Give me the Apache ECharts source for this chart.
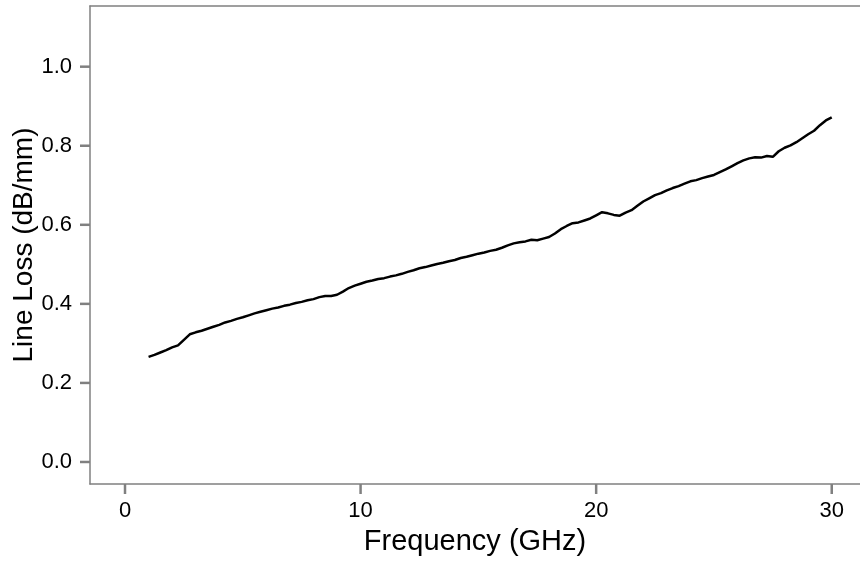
<!DOCTYPE html>
<html>
<head>
<meta charset="utf-8">
<script src="https://cdn.jsdelivr.net/npm/echarts@6/dist/echarts.min.js"></script>
<style>html,body{margin:0;padding:0;background:#fff}#c{width:860px;height:561px}</style>
</head>
<body>
<div id="c"></div>
<script>
const frequencyGHz = [1.00,1.25,1.50,1.75,2.00,2.25,2.50,2.75,3.00,3.25,3.50,3.75,4.00,4.25,4.50,4.75,5.00,5.25,5.50,5.75,6.00,6.25,6.50,6.75,7.00,7.25,7.50,7.75,8.00,8.25,8.50,8.75,9.00,9.25,9.50,9.75,10.00,10.25,10.50,10.75,11.00,11.25,11.50,11.75,12.00,12.25,12.50,12.75,13.00,13.25,13.50,13.75,14.00,14.25,14.50,14.75,15.00,15.25,15.50,15.75,16.00,16.25,16.50,16.75,17.00,17.25,17.50,17.75,18.00,18.25,18.50,18.75,19.00,19.25,19.50,19.75,20.00,20.25,20.50,20.75,21.00,21.25,21.50,21.75,22.00,22.25,22.50,22.75,23.00,23.25,23.50,23.75,24.00,24.25,24.50,24.75,25.00,25.25,25.50,25.75,26.00,26.25,26.50,26.75,27.00,27.25,27.50,27.75,28.00,28.25,28.50,28.75,29.00,29.25,29.50,29.75,30.00];
const lineLoss = [0.266,0.271,0.277,0.283,0.290,0.295,0.309,0.323,0.328,0.332,0.337,0.342,0.347,0.353,0.357,0.362,0.366,0.371,0.376,0.380,0.384,0.388,0.391,0.395,0.398,0.402,0.405,0.409,0.412,0.417,0.420,0.420,0.423,0.431,0.440,0.446,0.451,0.456,0.459,0.463,0.465,0.469,0.472,0.476,0.481,0.485,0.490,0.493,0.497,0.501,0.504,0.508,0.511,0.516,0.519,0.523,0.527,0.530,0.534,0.537,0.542,0.548,0.553,0.556,0.558,0.562,0.561,0.565,0.569,0.578,0.589,0.597,0.604,0.606,0.611,0.616,0.624,0.632,0.629,0.625,0.623,0.631,0.637,0.648,0.659,0.667,0.675,0.680,0.687,0.693,0.698,0.704,0.710,0.713,0.718,0.722,0.726,0.733,0.740,0.748,0.756,0.763,0.768,0.771,0.770,0.774,0.772,0.786,0.795,0.801,0.809,0.819,0.829,0.838,0.852,0.864,0.872];
const xTicks = [0, 10, 20, 30];
const yTicks = [0, 0.2, 0.4, 0.6, 0.8, 1.0];

const X_MIN = -1.486, X_MAX = 31.2, Y_MIN = -0.0557, Y_MAX = 1.1535;
const axisColor = '#808080';
const fontFam = 'Liberation Sans, Arial, sans-serif';
const chart = echarts.init(document.getElementById('c'), null, {renderer: 'canvas'});

function tickSeries(points, horizontal) {
  return {
    type: 'custom', coordinateSystem: 'cartesian2d', xAxisIndex: 0, yAxisIndex: 0,
    data: points, clip: false, silent: true, z: 5,
    renderItem: (params, api) => {
      const p = api.coord([api.value(0), api.value(1)]);
      const shape = horizontal
        ? {x1: p[0] - 10, y1: p[1], x2: p[0], y2: p[1]}
        : {x1: p[0], y1: p[1], x2: p[0], y2: p[1] + 10};
      return {type: 'line', shape: shape, style: {stroke: axisColor, lineWidth: 2.5}};
    }
  };
}

chart.setOption({
  animation: false,
  backgroundColor: '#fff',
  grid: {left: 90, right: 0, top: 6, bottom: 77, containLabel: false, outerBoundsMode: 'none'},
  xAxis: [{
    type: 'value', min: X_MIN, max: X_MAX,
    name: 'Frequency (GHz)', nameLocation: 'middle', nameGap: 43, nameMoveOverlap: false,
    nameTextStyle: {fontFamily: fontFam, fontSize: 29, color: '#000'},
    axisLine: {show: true, onZero: false, lineStyle: {color: axisColor, width: 1.5}},
    axisTick: {show: false},
    axisLabel: {customValues: xTicks, fontFamily: fontFam, fontSize: 22, color: '#000', margin: 16},
    splitLine: {show: false}
  }, {
    type: 'value', position: 'top', min: X_MIN, max: X_MAX,
    axisLine: {show: true, onZero: false, lineStyle: {color: axisColor, width: 1.5}},
    axisTick: {show: false}, axisLabel: {show: false}, splitLine: {show: false}
  }],
  yAxis: {
    type: 'value', min: Y_MIN, max: Y_MAX,
    name: 'Line Loss (dB/mm)', nameLocation: 'middle', nameGap: 52, nameRotate: 90, nameMoveOverlap: false,
    nameTextStyle: {fontFamily: fontFam, fontSize: 28, color: '#000'},
    axisLine: {show: true, onZero: false, lineStyle: {color: axisColor, width: 1.5}},
    axisTick: {show: false},
    axisLabel: {customValues: yTicks, fontFamily: fontFam, fontSize: 22, color: '#000', margin: 18,
      formatter: v => v.toFixed(1)},
    splitLine: {show: false}
  },
  series: [{
    type: 'line', xAxisIndex: 0,
    data: frequencyGHz.map((f, i) => [f, lineLoss[i]]),
    showSymbol: false, symbol: 'none',
    lineStyle: {color: '#000', width: 2.5},
    silent: true
  },
  tickSeries(yTicks.map(v => [X_MIN, v]), true),
  tickSeries(xTicks.map(v => [v, Y_MIN]), false)
  ]
});
</script>
</body>
</html>
